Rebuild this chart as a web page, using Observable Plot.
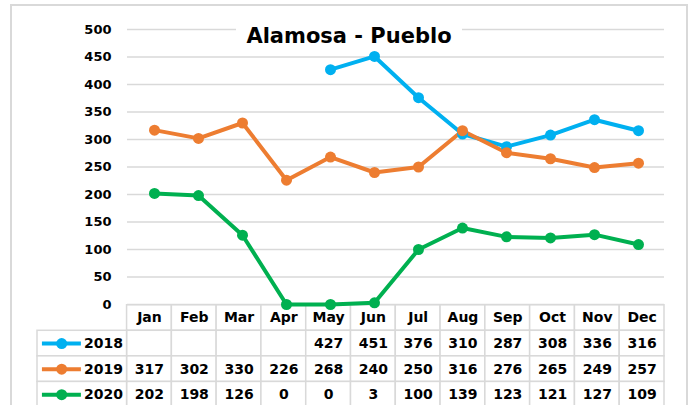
<!DOCTYPE html>
<html><head><meta charset="utf-8">
<script src="https://cdn.jsdelivr.net/npm/d3@7"></script>
<script src="https://cdn.jsdelivr.net/npm/@observablehq/plot@0.6"></script>
<style>
html,body{margin:0;padding:0;background:#fff;}
#wrap{position:relative;width:691px;height:405px;overflow:hidden;font-family:"DejaVu Sans",sans-serif;}
#frame{position:absolute;left:10px;top:4px;width:674px;height:420px;border:2px solid #d9d9d9;}
.layer{position:absolute;left:0;}
#title{position:absolute;left:236px;top:22px;width:226px;height:28px;background:#fff;text-align:center;font:bold 21px "DejaVu Sans",sans-serif;line-height:28px;color:#000;white-space:nowrap;}
</style></head>
<body><div id="wrap"><div id="frame"></div><div id="tbl" class="layer" style="top:304px"></div><div id="chart" class="layer" style="top:0"></div><div id="title">Alamosa - Pueblo</div></div>
<script>
const months = ["Jan","Feb","Mar","Apr","May","Jun","Jul","Aug","Sep","Oct","Nov","Dec"];
const years = ["2018","2019","2020"];
const v2018 = [null,null,null,null,427,451,376,310,287,308,336,316];
const v2019 = [317,302,330,226,268,240,250,316,276,265,249,257];
const v2020 = [202,198,126,0,0,3,100,139,123,121,127,109];
const yTicks = [0,50,100,150,200,250,300,350,400,450,500];
const colors = ["#00B0F0","#ED7D31","#00B050"];

const series = [v2018, v2019, v2020];
const rows = years.flatMap((yr,i)=> months.map((m,j)=>({year:yr, month:m, value:series[i][j]}))).filter(d=>d.value!=null);
const font = {background:"transparent", fontFamily:"DejaVu Sans, sans-serif", color:"#000"};

const chart = Plot.plot({
  width:691, height:405, marginTop:29, marginBottom:101, marginLeft:127, marginRight:27,
  style:font,
  x:{type:"point", domain:months, padding:0.5, axis:null},
  y:{domain:[0,500], axis:null},
  color:{domain:years, range:colors},
  marks:[
    Plot.ruleY(yTicks,{stroke:"#d9d9d9", strokeWidth:1.5}),
    Plot.axisY(yTicks,{tickSize:0, tickPadding:16, fontWeight:"bold", fontSize:13, label:null}),
    Plot.line(rows,{x:"month", y:"value", stroke:"year", z:"year", strokeWidth:4}),
    Plot.dot(rows,{x:"month", y:"value", fill:"year", r:5.5})
  ]
});
document.getElementById("chart").appendChild(chart);

const header = months.map((m,j)=>({x1:j+2,x2:j+3,y1:0,y2:1,label:m}));
const body = years.flatMap((yr,i)=> months.map((m,j)=>({x1:j+2,x2:j+3,y1:i+1,y2:i+2,label: series[i][j]==null?"":String(series[i][j])})));
const legend = years.map((yr,i)=>({x1:0,x2:2,y1:i+1,y2:i+2,year:yr}));

const tbl = Plot.plot({
  width:691, height:104, marginTop:0, marginBottom:0, marginLeft:37, marginRight:27,
  style:font,
  x:{domain:[0,14], axis:null},
  y:{domain:[0,4], range:[0.7,103], axis:null},
  color:{domain:years, range:colors},
  marks:[
    Plot.rect([...header,...body,...legend],{x1:"x1",x2:"x2",y1:"y1",y2:"y2", fill:"white", stroke:"#d9d9d9", strokeWidth:1.5}),
    Plot.text([...header,...body],{x:d=>(d.x1+d.x2)/2, y:d=>(d.y1+d.y2)/2, text:"label", fontWeight:"bold", fontSize:14}),
    Plot.ruleY(legend,{y:d=>d.y1+0.5, x1:()=>0.11, x2:()=>0.98, stroke:"year", strokeWidth:4}),
    Plot.dot(legend,{x:()=>0.54, y:d=>d.y1+0.5, fill:"year", r:5.5}),
    Plot.text(legend,{x:"x2", y:d=>d.y1+0.5, text:"year", textAnchor:"end", dx:-4, fontWeight:"bold", fontSize:14})
  ]
});
document.getElementById("tbl").appendChild(tbl);
</script>
</body></html>
